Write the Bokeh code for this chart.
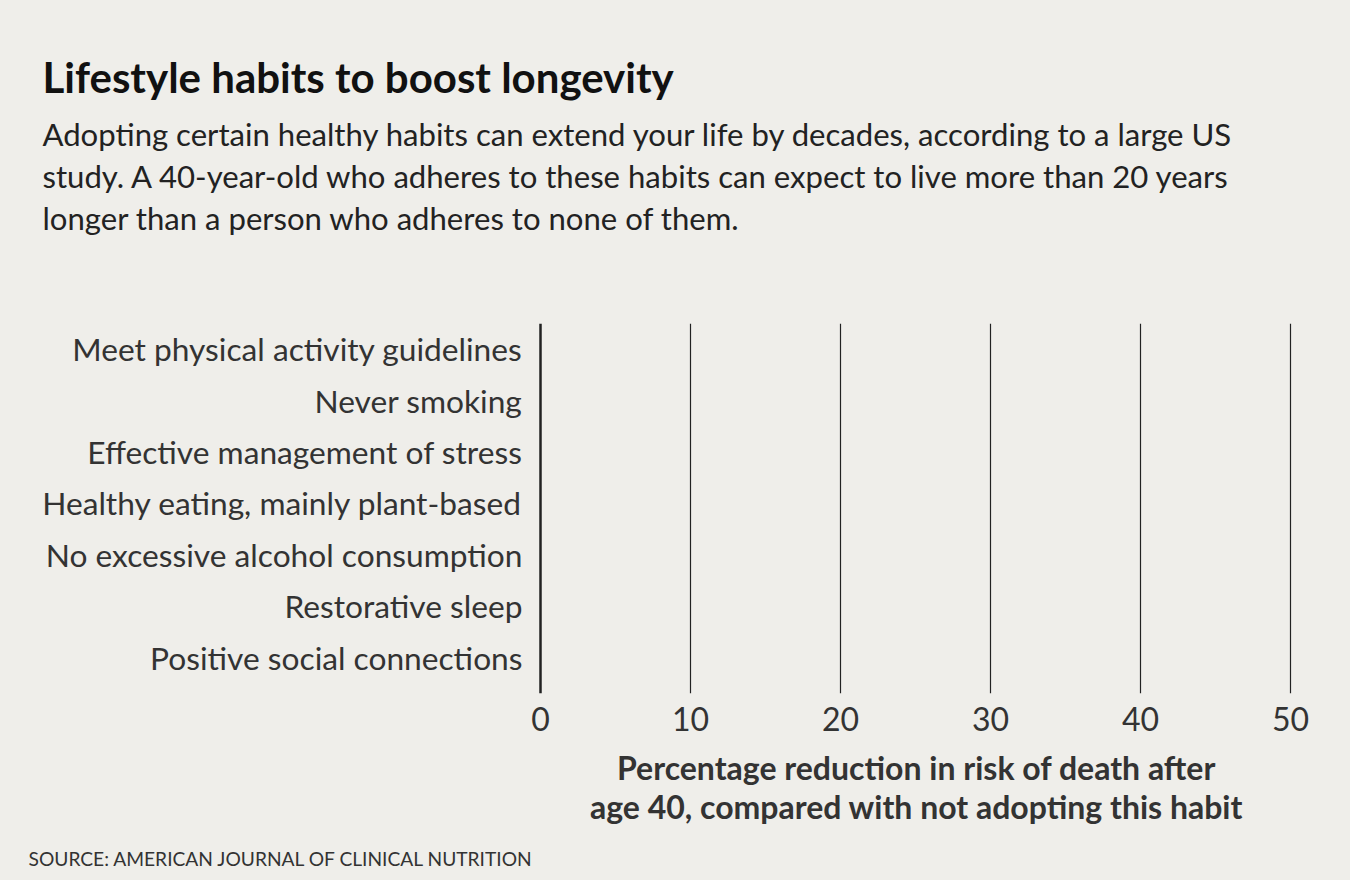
from bokeh.plotting import figure
from bokeh.models import Range1d, FixedTicker, Grid
from bokeh.layouts import column
from bokeh.core.properties import value
from bokeh.embed import file_html
from bokeh.resources import INLINE

categories = [
    "Meet physical activity guidelines",
    "Never smoking",
    "Effective management of stress",
    "Healthy eating, mainly plant-based",
    "No excessive alcohol consumption",
    "Restorative sleep",
    "Positive social connections",
]
x_ticks = [0, 10, 20, 30, 40, 50]

title = "Lifestyle habits to boost longevity"
subtitle = [
    "Adopting certain healthy habits can extend your life by decades, according to a large US",
    "study. A 40-year-old who adheres to these habits can expect to live more than 20 years",
    "longer than a person who adheres to none of them.",
]
axis_label = [
    "Percentage reduction in risk of death after",
    "age 40, compared with not adopting this habit",
]
source = "SOURCE: AMERICAN JOURNAL OF CLINICAL NUTRITION"

BG = "#efeeea"
W = 1350
HEAD_H = 315          # header strip: 0..315
FT, FB = 323, 693     # main frame top / bottom (page px)
MAIN_BOTTOM = 743     # main figure: 315..743
PAGE_H = 880          # footer: 743..880
PX_PER_UNIT = 15      # 0 at x=540, 50 at x=1290
X0_PX = 540


def text_strip(y0, y1):
    f = figure(width=W, height=y1 - y0, x_range=Range1d(0, W), y_range=Range1d(y1, y0),
               x_axis_location=None, y_axis_location=None, min_border=0,
               output_backend="svg", toolbar_location=None, tools="")
    f.background_fill_color = BG
    f.border_fill_color = BG
    f.outline_line_color = None
    f.grid.visible = False
    return f


# ---------- header ----------
head = text_strip(0, HEAD_H)
head.text(x=[42], y=[76], text=[title], text_font=value("Lato"),
          text_font_style="bold", text_font_size="42px", text_color="#111111",
          text_baseline="middle")
head.text(x=[42] * len(subtitle), y=[133 + i * 42 for i in range(len(subtitle))],
          text=subtitle, text_font=value("Lato"), text_font_size="31.1px",
          text_color="#222222", text_baseline="middle")

# ---------- main chart (frame spans the full width) ----------
n = len(categories)
cat_pos = [n - i - 0.5 for i in range(n)]

p = figure(
    width=W, height=MAIN_BOTTOM - HEAD_H,
    x_range=Range1d(-X0_PX / PX_PER_UNIT, (W - X0_PX) / PX_PER_UNIT),
    y_range=Range1d(-0.2, n),
    y_axis_location=None,
    output_backend="svg", toolbar_location=None, tools="",
    min_border_left=0, min_border_right=0,
    min_border_top=FT - HEAD_H, min_border_bottom=MAIN_BOTTOM - FB,
)
p.background_fill_color = BG
p.border_fill_color = BG
p.outline_line_color = None

p.xaxis.ticker = FixedTicker(ticks=x_ticks)
p.xaxis.axis_line_color = None
p.xaxis.major_tick_line_color = None
p.xaxis.minor_tick_line_color = None
p.xaxis.major_label_text_font = "Lato"
p.xaxis.major_label_text_font_size = "32px"
p.xaxis.major_label_text_color = "#333333"
p.xaxis.major_label_standoff = 7

p.xgrid.ticker = FixedTicker(ticks=x_ticks[1:])
p.xgrid.grid_line_color = "#222222"
p.xgrid.grid_line_width = 1.2
p.ygrid.grid_line_color = None

# baseline (value axis at zero)
p.add_layout(Grid(dimension=0, ticker=FixedTicker(ticks=[x_ticks[0]]),
                  grid_line_color="#222222", grid_line_width=2.5))

# category labels placed through the y scale, right-aligned just left of zero
p.text(x=[-1.2] * n, y=cat_pos, text=categories, text_font=value("Lato"),
       text_font_size="31.7px", text_color="#333333", text_align="right",
       text_baseline="middle")

# ---------- footer ----------
foot = text_strip(MAIN_BOTTOM, PAGE_H)
foot.text(x=[916] * 2, y=[767, 806], text=axis_label, text_font=value("Lato"),
          text_font_style="bold", text_font_size="32px", text_color="#333333",
          text_align="center", text_baseline="middle")
foot.text(x=[28], y=[858], text=[source], text_font=value("Lato"),
          text_font_size="19.2px", text_color="#333333", text_baseline="middle")

layout = column(head, p, foot, spacing=0, styles={"background-color": BG})
open("out.html", "w").write(file_html(layout, INLINE))
